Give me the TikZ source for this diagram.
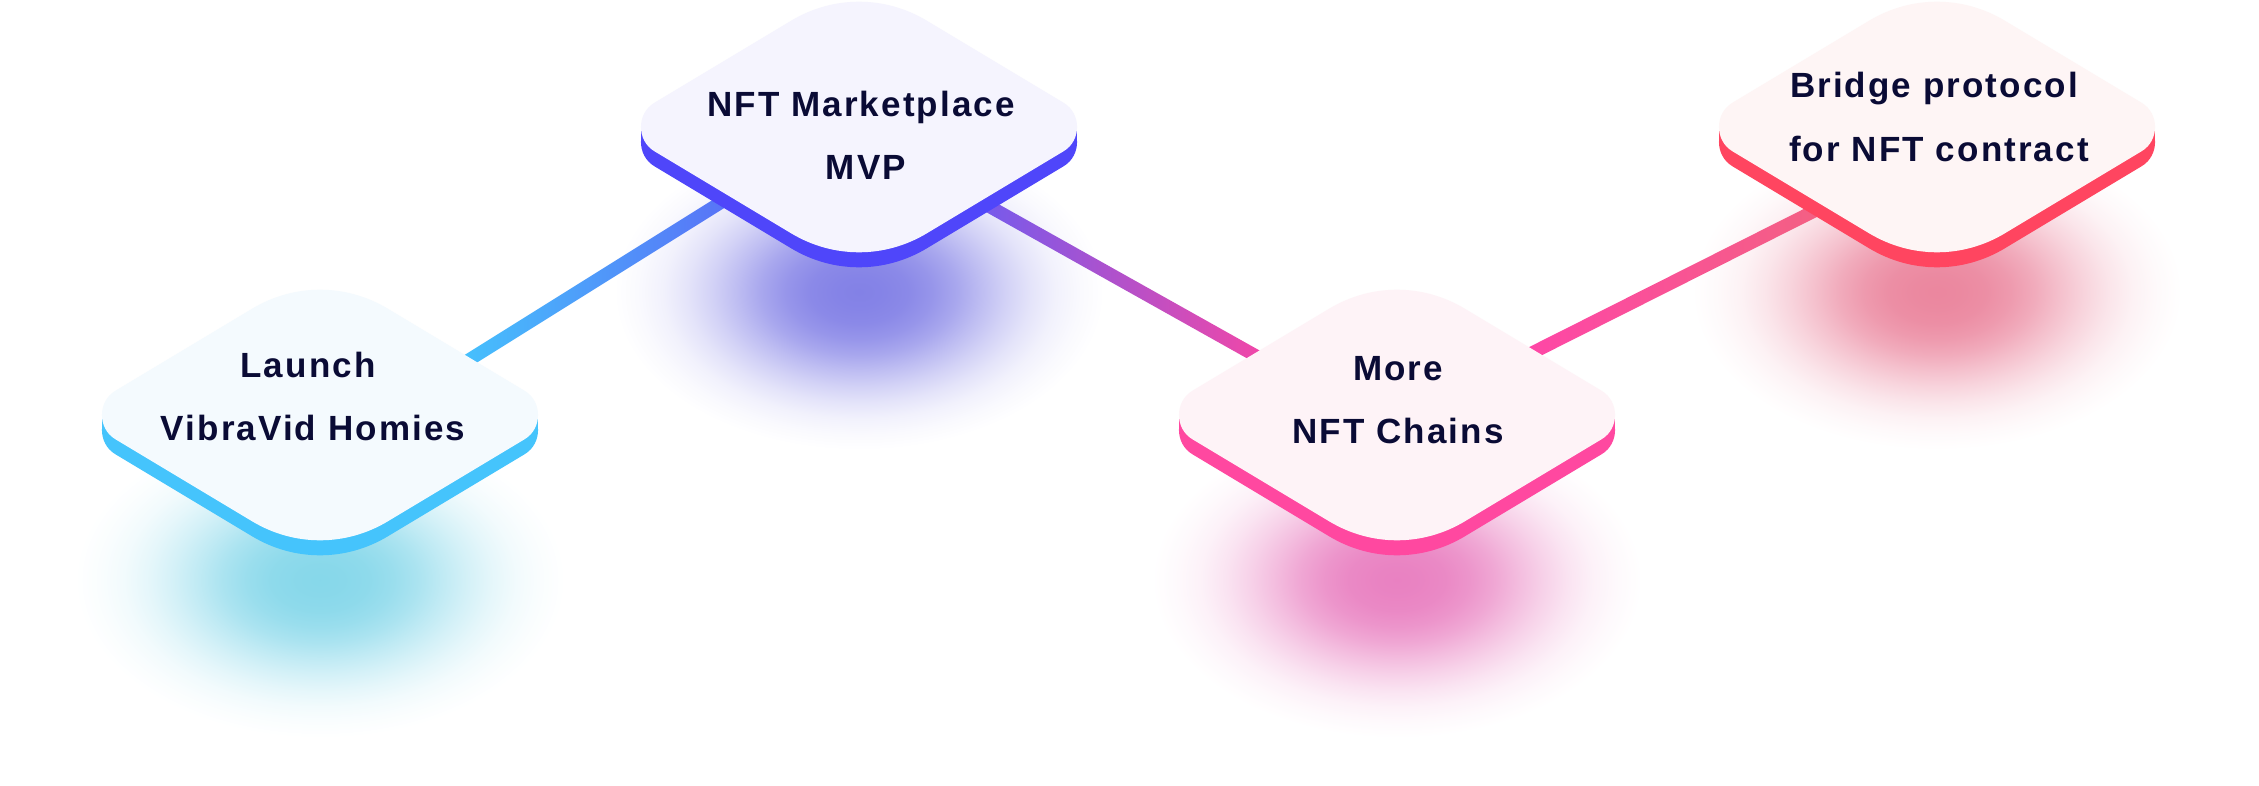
\documentclass[tikz,border=0pt]{standalone}
\usepackage{fontspec}
\newfontfamily\lblfont[LetterSpace=6]{Liberation Sans}
\usetikzlibrary{calc}
\definecolor{txt}{HTML}{0A0B35}
\definecolor{faceA}{HTML}{F4FAFE}
\definecolor{sideA}{HTML}{45C4FC}
\definecolor{glowA}{HTML}{7CD4E8}
\definecolor{faceB}{HTML}{F5F4FE}
\definecolor{sideB}{HTML}{4F46FA}
\definecolor{glowB}{HTML}{7876E4}
\definecolor{faceC}{HTML}{FEF3F7}
\definecolor{sideC}{HTML}{FF48A0}
\definecolor{glowC}{HTML}{E776BC}
\definecolor{faceD}{HTML}{FEF5F5}
\definecolor{sideD}{HTML}{FF4560}
\definecolor{glowD}{HTML}{E97C96}
\definecolor{lnA}{HTML}{44C8FD}
\definecolor{lnB}{HTML}{5B68F6}
\definecolor{lnC}{HTML}{6A5CF2}
\definecolor{lnD}{HTML}{FF45A0}
\definecolor{lnE}{HTML}{FF44AA}
\definecolor{lnF}{HTML}{F2637F}
\newcommand{\defglow}[2]{\pgfdeclareradialshading{#1}{\pgfpointorigin}{color(0bp)=(#2!92!white); color(2.5bp)=(#2!90!white); color(5bp)=(#2!86!white); color(7.5bp)=(#2!77!white); color(10bp)=(#2!64!white); color(12.5bp)=(#2!48!white); color(15bp)=(#2!33!white); color(17.5bp)=(#2!20!white); color(20bp)=(#2!10!white); color(22.5bp)=(#2!4!white); color(25bp)=(white); color(50bp)=(white)}}
\defglow{glowshA}{glowA}
\defglow{glowshB}{glowB}
\defglow{glowshC}{glowC}
\defglow{glowshD}{glowD}
\tikzset{
  lbl/.style={font=\lblfont\bfseries\fontsize{35}{42}\selectfont, text=txt, inner sep=0pt, anchor=base},
}
\newcommand{\rhombfill}[1]{\fill[#1] (-67.7,-106.4) .. controls (-25.7,-131.6) and (25.7,-131.6) .. (67.7,-106.4) -- (204.7,-24.2) .. controls (222.5,-13.5) and (222.5,13.5) .. (204.7,24.2) -- (67.7,106.4) .. controls (25.7,131.6) and (-25.7,131.6) .. (-67.7,106.4) -- (-204.7,24.2) .. controls (-222.5,13.5) and (-222.5,-13.5) .. (-204.7,-24.2) -- cycle;}
\newcommand{\rmbat}[3]{%
  \begin{scope}[shift={(#1)}]
    \begin{scope}[shift={(0,15)}]\rhombfill{#3}\end{scope}
    \fill[#3] (-218,0) rectangle (218,15);
    \rhombfill{#2}
  \end{scope}}
\newcommand{\glowat}[2]{%
  \shade[shading=#2] ($(#1)+(0,165)$) ellipse [x radius=245pt, y radius=158pt];}
\newcommand{\band}[4]{\shade[left color=#3, right color=#4] ($(#1)!6.5pt!90:(#2)$) -- ($(#2)!6.5pt!-90:(#1)$) -- ($(#2)!6.5pt!90:(#1)$) -- ($(#1)!6.5pt!-90:(#2)$) -- cycle;}
\begin{document}
\begin{tikzpicture}[x=1pt, y=-1pt]
\useasboundingbox (0,0) rectangle (2259,786);
\fill[white] (0,0) rectangle (2259,786);
\coordinate (d1) at (320,415);
\coordinate (d2) at (859,127);
\coordinate (d3) at (1397,415);
\coordinate (d4) at (1937,127);
\coordinate (l1a) at (440,378);
\coordinate (l1b) at (760,178);
\coordinate (l2a) at (960,190);
\coordinate (l2b) at (1290,375);
\coordinate (l3a) at (1500,369);
\coordinate (l3b) at (1850,193);
% glows
\glowat{d1}{glowshA}
\glowat{d2}{glowshB}
\glowat{d3}{glowshC}
\glowat{d4}{glowshD}
% connectors
\band{l1a}{l1b}{lnA}{lnB}
\band{l2a}{l2b}{lnC}{lnD}
\band{l3a}{l3b}{lnE}{lnF}
% diamonds
\rmbat{d1}{faceA}{sideA}
\rmbat{d2}{faceB}{sideB}
\rmbat{d3}{faceC}{sideC}
\rmbat{d4}{faceD}{sideD}
% labels
\node[lbl] (t1a) at (308,377) {Launch};
\node[lbl] (t1b) at (313,440) {VibraVid Homies};
\node[lbl] (t2a) at (861,117) {NFT Marketplace};
\node[lbl] (t2b) at (866,180) {MVP};
\node[lbl] (t3a) at (1398,380) {More};
\node[lbl] (t3b) at (1398,443) {NFT Chains};
\node[lbl] (t4a) at (1934,98) {Bridge protocol};
\node[lbl] (t4b) at (1939,162) {for NFT contract};
\end{tikzpicture}
\end{document}
